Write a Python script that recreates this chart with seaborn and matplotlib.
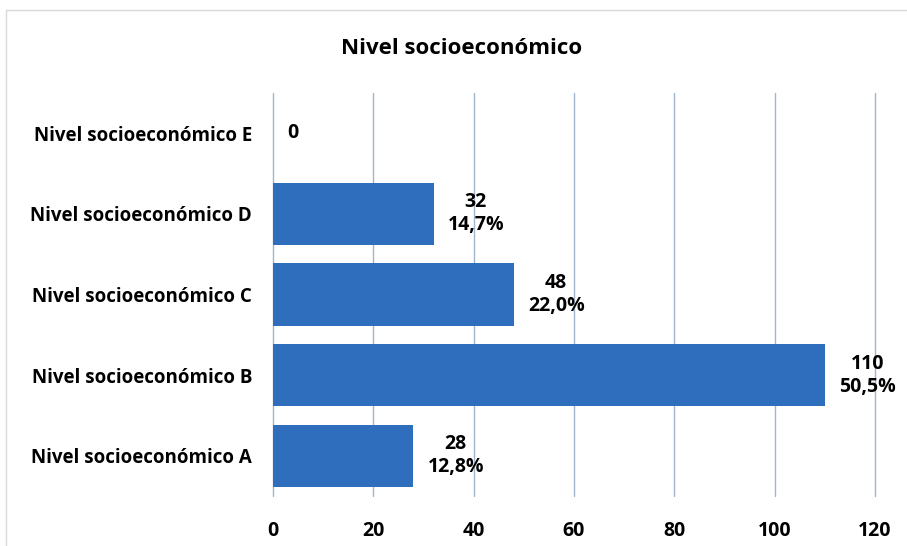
import matplotlib
matplotlib.use("Agg")
import matplotlib.pyplot as plt
import seaborn as sns
import pandas as pd
from matplotlib.patches import Rectangle

categorias = ["Nivel socioeconómico E", "Nivel socioeconómico D", "Nivel socioeconómico C",
              "Nivel socioeconómico B", "Nivel socioeconómico A"]
valores = [0, 32, 48, 110, 28]
porcentajes = ["", "14,7%", "22,0%", "50,5%", "12,8%"]
xticks = [0, 20, 40, 60, 80, 100, 120]

sns.set_style("white")
plt.rcParams["font.family"] = ["Open Sans", "DejaVu Sans"]
plt.rcParams["font.weight"] = "bold"

df = pd.DataFrame({"cat": categorias, "val": valores})

fig = plt.figure(figsize=(9.07, 5.46), dpi=100)
ax = fig.add_axes([0.301, 0.0916, 0.6637, 0.738])

sns.barplot(data=df, x="val", y="cat", orient="h", color="#2E6EBD", width=0.77,
            saturation=1, linewidth=0, ax=ax, zorder=3)

ax.set_xlim(0, 120)
ax.set_xticks(xticks)
ax.xaxis.grid(True, color="#A3B5CA", linewidth=1, zorder=0, clip_on=False)
ax.set_axisbelow(True)
for s in ax.spines.values():
    s.set_visible(False)
ax.tick_params(axis="both", length=0, labelsize=14, labelcolor="black")
ax.tick_params(axis="y", labelsize=13.5, pad=15)
ax.tick_params(axis="x", pad=18)
for t in ax.get_xticklabels() + ax.get_yticklabels():
    t.set_fontweight("bold")
ax.set_xlabel("")
ax.set_ylabel("")

for i, (v, p) in enumerate(zip(valores, porcentajes)):
    txt = str(v) if not p else f"{v}\n{p}"
    ax.annotate(txt, xy=(v, i), xytext=(14, 0), textcoords="offset pixels",
                ha="left", va="center", multialignment="center",
                fontsize=14, fontweight="bold", color="black", linespacing=1.2)

fig.text(0.509, 0.912, "Nivel socioeconómico", ha="center", va="center",
         fontsize=16, fontweight="bold", color="black")

fig.patches.append(Rectangle((6 / 907, -0.1), 1.2, 1 - 10 / 546 + 0.1,
                             transform=fig.transFigure, fill=False,
                             edgecolor="#D9D9D9", linewidth=1))

fig.savefig("out.png", dpi=100)
